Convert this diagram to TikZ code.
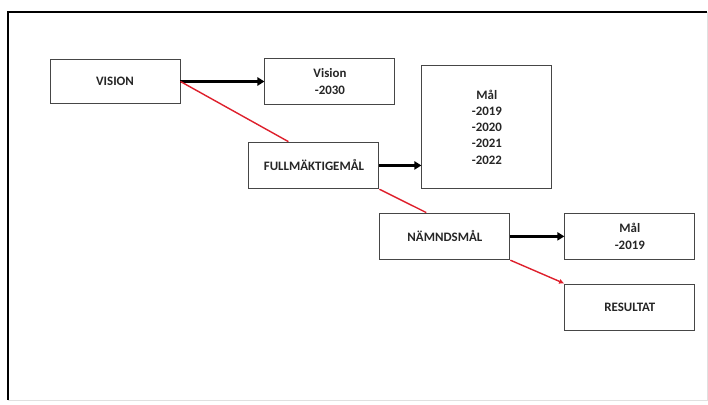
\documentclass[tikz,border=0pt]{standalone}
\usepackage{fontspec}
\setmainfont{Carlito}
\usetikzlibrary{positioning,arrows.meta}
\definecolor{linkred}{RGB}{222,32,44}
\definecolor{boxline}{RGB}{70,70,70}

\begin{document}
\begin{tikzpicture}[
  box/.style = {
    draw = boxline,
    rectangle,
    line width = 0.8pt,
    fill = white,
    minimum width = 3.9cm,
    minimum height = 1.4cm,
    align = center,
    text = black!85,
    font = \fontsize{11}{13.8}\selectfont\bfseries,
  },
  flow/.style = {
    line width = 2.6pt,
    -{Triangle[length=6pt,width=7pt]},
  },
  link/.style = {
    draw = linkred,
    line width = 1.2pt,
  },
]

  \useasboundingbox (0,0) rectangle (21.24,-12.15);

  % frame
  \coordinate (fbl) at (0.24,-12.0);
  \coordinate (ftl) at (0.24,-0.36);
  \coordinate (ftr) at (21.21,-0.36);
  \coordinate (fbr) at (21.21,-12.0);
  \draw[black!12,line width=0.6pt] (fbl) -- (fbr) -- (ftr);
  \draw[line width=2pt] (fbl) -- (ftl) -- (ftr);

  \node[box,minimum height=1.3cm] (vision) at (3.45,-2.445) {VISION};
  \node[box] (visionyear) [right=2.52cm of vision] {Vision\\-2030};
  \node[box] (fullm) [below right=1.14cm and 2.04cm of vision] {FULLMÄKTIGEMÅL};
  \node[box,minimum height=3.69cm] (malyears) [right=1.26cm of fullm,yshift=1.15cm] {Mål\\-2019\\-2020\\-2021\\-2022};
  \node[box] (namnd) [below right=0.7cm and 0cm of fullm] {NÄMNDSMÅL};
  \node[box] (malnamnd) [right=1.62cm of namnd] {Mål\\-2019};
  \node[box] (resultat) [below right=0.7cm and 1.62cm of namnd] {RESULTAT};

  \path[flow] (vision) edge (visionyear);
  \path[flow] (fullm) edge (fullm -| malyears.west);
  \path[flow] (namnd) edge (malnamnd);

  \draw[link] (vision.east) -- (fullm.137);
  \draw[link] (fullm.south east) -- (namnd.128);
  \draw[link,-{Latex[length=4.5pt,width=4.5pt]}] (namnd.south east) -- (resultat.north west);

\end{tikzpicture}
\end{document}
